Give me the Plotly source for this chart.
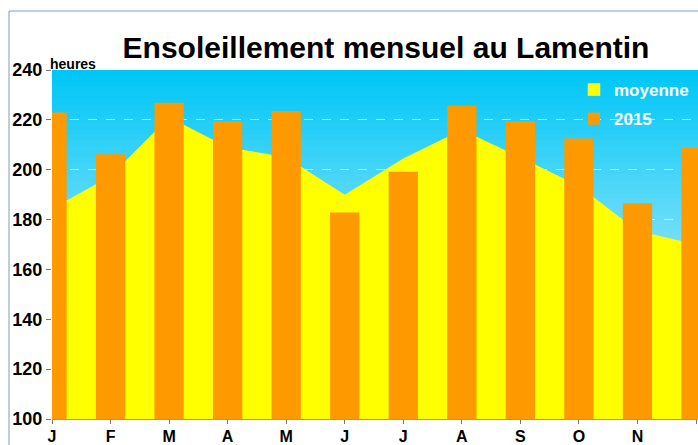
import plotly.graph_objects as go

# ---- data ----
mois = ["J", "F", "M", "A", "M", "J", "J", "A", "S", "O", "N", "D"]
moyenne = [184.3, 197.5, 221.0, 209.0, 205.0, 190.0, 204.5, 216.0, 205.0, 193.5, 175.5, 170.0]
annee_2015 = [223.0, 206.2, 226.9, 219.3, 223.6, 182.8, 199.2, 225.7, 219.3, 212.5, 186.5, 209.0]
y_ticks = [100, 120, 140, 160, 180, 200, 220, 240]
x_pos = list(range(len(mois)))

FONT = "Liberation Sans, Arial, sans-serif"
YELLOW = "#FFFF00"
ORANGE = "#FF9900"

fig = go.Figure()

fig.add_trace(go.Scatter(
    x=x_pos, y=moyenne, name="moyenne", mode="lines",
    fill="tozeroy", fillcolor=YELLOW,
    line=dict(width=0, color=YELLOW),
    xaxis="x", yaxis="y", hoverinfo="skip", showlegend=False,
))
# legend entry with a square swatch for the average
fig.add_trace(go.Bar(
    x=[None], y=[None], name="moyenne", marker=dict(color=YELLOW),
    xaxis="x2", yaxis="y2", legendgroup="a", showlegend=True,
))
fig.add_trace(go.Bar(
    x=x_pos, y=annee_2015, name="2015", width=0.5,
    marker=dict(color=ORANGE, line=dict(width=0)),
    xaxis="x2", yaxis="y2", legendgroup="b",
))

# background vertical gradient (cyan -> pale) as bands under the grid
shapes = []
n = 60
top = (0, 198, 246)
bot = (235, 248, 253)
for i in range(n):
    t = i / (n - 1)
    c = tuple(int(round(top[k] + (bot[k] - top[k]) * t)) for k in range(3))
    y1 = 1 - i / n
    y0 = 1 - (i + 1) / n
    shapes.append(dict(type="rect", xref="paper", yref="paper",
                       x0=0, x1=1, y0=y0 - 0.002, y1=y1,
                       fillcolor="rgb(%d,%d,%d)" % c, line=dict(width=0),
                       layer="below"))
# outer chart frame (top and left edges)
fx = -43 / 646
fy = (419 - 11) / 349
shapes.append(dict(type="line", xref="paper", yref="paper", x0=fx, x1=1.05, y0=fy, y1=fy,
                   line=dict(color="#7F9DB9", width=1), layer="above"))
shapes.append(dict(type="line", xref="paper", yref="paper", x0=fx, x1=fx, y0=fy, y1=-0.2,
                   line=dict(color="#7F9DB9", width=1), layer="above"))

xr = [0, 11 * 646 / 644]

fig.update_layout(
    width=698, height=445,
    margin=dict(l=52, r=0, t=70, b=26, autoexpand=False),
    paper_bgcolor="white", plot_bgcolor="#00C6F6",
    shapes=shapes,
    barmode="overlay",
    title=dict(text="Ensoleillement mensuel au Lamentin",
               font=dict(family=FONT, size=30, color="black", weight="bold"),
               x=386 / 698, xanchor="center", xref="container",
               y=1 - 47 / 445, yanchor="middle", yref="container"),
    xaxis=dict(range=xr, tickmode="array", tickvals=x_pos, ticktext=mois,
               showgrid=False, zeroline=False, automargin=False,
               ticks="outside", ticklen=4, tickcolor="#777777",
               showline=True, linecolor="#999999", linewidth=1,
               tickfont=dict(family=FONT, size=16, color="black", weight="bold"),
               ticklabelstandoff=-1),
    yaxis=dict(range=[100, 240], tickmode="array", tickvals=y_ticks,
               showgrid=True, gridcolor="#E6E6E6", griddash="dash", gridwidth=1,
               zeroline=False, ticks="outside", ticklen=5, tickcolor="#777777",
               showline=False, automargin=False,
               tickfont=dict(family=FONT, size=18, color="black", weight="bold")),
    xaxis2=dict(range=xr, overlaying="x", visible=False),
    yaxis2=dict(range=[100, 240], overlaying="y", visible=False),
    legend=dict(x=(574 - 52) / 646, y=(419 - 72) / 349, xanchor="left", yanchor="top",
                bgcolor="rgba(0,0,0,0)",
                font=dict(family=FONT, size=17, color="white", weight="bold"),
                traceorder="grouped", tracegroupgap=4, itemwidth=30),
    annotations=[dict(text="heures", xref="paper", yref="paper",
                      x=-4 / 646, y=1, xanchor="left", yanchor="bottom",
                      yshift=-4, showarrow=False,
                      font=dict(family=FONT, size=14, color="black", weight="bold"))],
    showlegend=True,
)

fig.write_html("out.html")
